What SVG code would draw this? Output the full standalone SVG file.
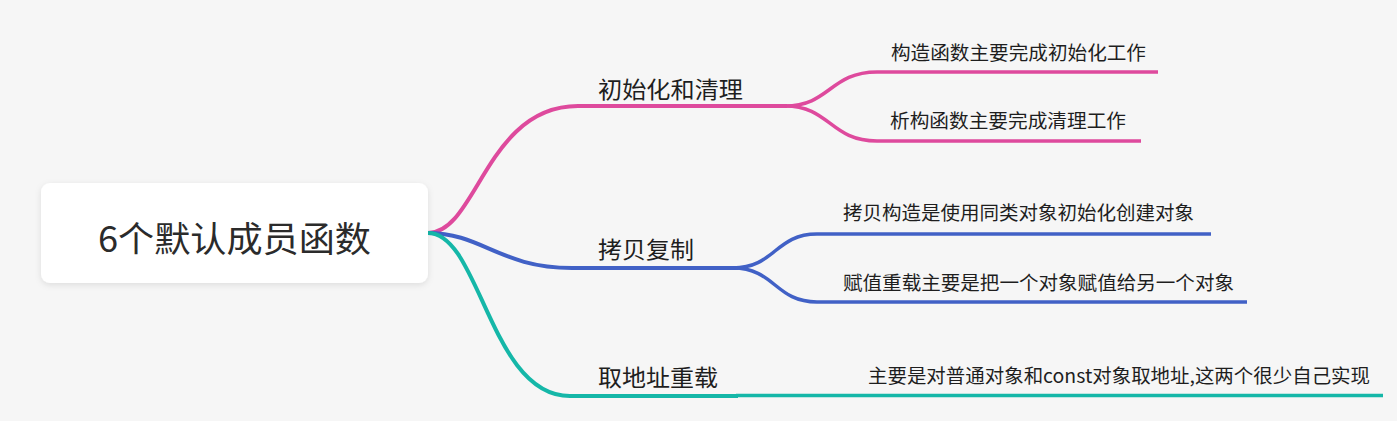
<svg xmlns="http://www.w3.org/2000/svg" width="1397" height="421" viewBox="0 0 1397 421">
  <defs>
    <filter id="shadow" x="-10%" y="-20%" width="120%" height="150%">
      <feDropShadow dx="0" dy="2" stdDeviation="3" flood-color="#000" flood-opacity="0.10"/>
    </filter>
    <style>
      text { font-family: "Noto Sans CJK SC", "Liberation Sans", sans-serif; fill: #1e1e1e; }
      .root { font-size: 35px; fill: #2b2b2b; }
      .main { font-size: 23px; }
      .sub { font-size: 19px; }
      .line { fill: none; stroke-linecap: butt; }
      .pink { stroke: #de4a9d; }
      .blue { stroke: #4161c6; }
      .teal { stroke: #15b7a8; }
      .w4 { stroke-width: 4; }
      .w3 { stroke-width: 3.5; }
    </style>
  </defs>
  <rect width="1397" height="421" fill="#f6f6f6"/>

  <g id="connectors">
    <path class="line pink w4" d="M428,233 C477,233 486,106 578,106 L787,106"/>
    <path class="line pink w3" d="M785,106 C830,106 830,72 877,72 L1158,72"/>
    <path class="line pink w3" d="M785,106 C830,106 830,141 877,141 L1141,141"/>
    <path class="line blue w4" d="M428,233 C482,233 500,268 572,268 L738,268"/>
    <path class="line blue w3" d="M733,268 C775,268 775,234 817,234 L1211,234"/>
    <path class="line blue w3" d="M733,268 C775,268 775,302 817,302 L1247,302"/>
    <path class="line teal w4" d="M428,233 C480,233 490,396 570,396 L738,396"/>
    <path class="line teal w3" d="M736,395.5 L1383,395.5"/>
  </g>

  <g id="root">
    <rect x="41" y="183" width="387" height="100" rx="9" fill="#ffffff" filter="url(#shadow)"/>
    <text class="root" x="98" y="252" textLength="273" lengthAdjust="spacingAndGlyphs">6个默认成员函数</text>
  </g>

  <g id="node-init">
    <text class="main" x="598" y="98" textLength="145" lengthAdjust="spacingAndGlyphs">初始化和清理</text>
  </g>
  <g id="node-init-1">
    <text class="sub" x="891" y="60" textLength="255" lengthAdjust="spacingAndGlyphs">构造函数主要完成初始化工作</text>
  </g>
  <g id="node-init-2">
    <text class="sub" x="890" y="128" textLength="236" lengthAdjust="spacingAndGlyphs">析构函数主要完成清理工作</text>
  </g>

  <g id="node-copy">
    <text class="main" x="598" y="258" textLength="96" lengthAdjust="spacingAndGlyphs">拷贝复制</text>
  </g>
  <g id="node-copy-1">
    <text class="sub" x="843" y="220" textLength="351" lengthAdjust="spacingAndGlyphs">拷贝构造是使用同类对象初始化创建对象</text>
  </g>
  <g id="node-copy-2">
    <text class="sub" x="843" y="290" textLength="391" lengthAdjust="spacingAndGlyphs">赋值重载主要是把一个对象赋值给另一个对象</text>
  </g>

  <g id="node-addr">
    <text class="main" x="598" y="386" textLength="120" lengthAdjust="spacingAndGlyphs">取地址重载</text>
  </g>
  <g id="node-addr-1">
    <text class="sub" x="868" y="383" textLength="502" lengthAdjust="spacingAndGlyphs">主要是对普通对象和const对象取地址,这两个很少自己实现</text>
  </g>
</svg>
